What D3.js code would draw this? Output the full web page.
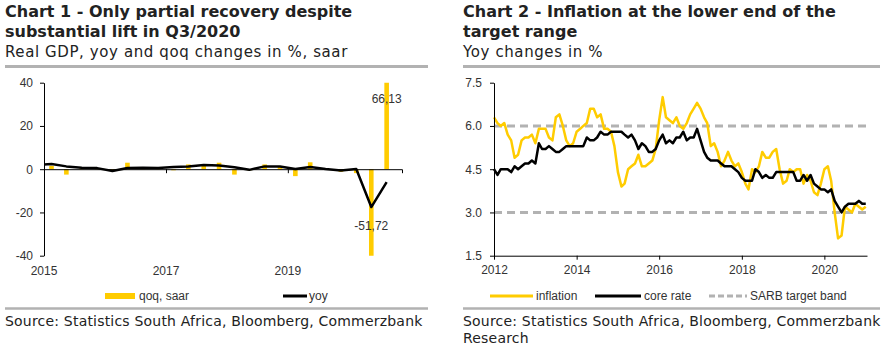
<!DOCTYPE html>
<html>
<head>
<meta charset="utf-8">
<script src="https://cdn.jsdelivr.net/npm/d3@7"></script>
<style>
  body { margin: 0; background: #fff; }
  svg { display: block; }
</style>
</head>
<body>
<div id="chart"></div>
<script>
// ---- data ----
// Chart 1: quarterly real GDP (Q4 2014 .. Q3 2020)
const gdpQuarters = ["2014Q4", "2015Q1", "2015Q2", "2015Q3", "2015Q4", "2016Q1", "2016Q2", "2016Q3", "2016Q4",
    "2017Q1", "2017Q2", "2017Q3", "2017Q4", "2018Q1", "2018Q2", "2018Q3", "2018Q4",
    "2019Q1", "2019Q2", "2019Q3", "2019Q4", "2020Q1", "2020Q2", "2020Q3"];
const gdpQoq = [null, 1.5, -2.5, 0.5, 0.4, -0.8, 3.0, 0.3, 0.4, -0.5, 2.2, 2.2, 3.0,
    -2.5, -0.5, 2.2, 1.4, -3.2, 3.2, -0.3, -1.2, -1.8, -51.72, 66.13];
const gdpYoy = [2.0, 2.4, 1.3, 0.7, 0.5, -0.8, 0.6, 0.7, 0.6, 1.0, 1.2, 1.9, 1.7,
    0.9, -0.3, 1.3, 1.2, 0.1, 1.0, 0.1, -0.6, 0.1, -17.5, -6.0];
const gdpTicks = [2015, 2017, 2019];
const gdpYTicks = [-40, -20, 0, 20, 40];

// Chart 2: monthly CPI (Jan 2012 .. Jan 2021)
const cpiStart = "2012-01";
const inflation = [
    6.3, 6.1, 6.0, 6.1, 5.7, 5.5, 4.9, 5.0, 5.5, 5.6, 5.6, 5.7,
    5.4, 5.9, 5.9, 5.9, 5.6, 5.5, 6.3, 6.4, 6.0, 5.5, 5.3, 5.4,
    5.8, 5.9, 6.0, 6.1, 6.6, 6.6, 6.3, 6.4, 5.9, 5.9, 5.8, 5.3,
    4.4, 3.9, 4.0, 4.5, 4.6, 4.7, 5.0, 4.6, 4.6, 4.7, 4.8, 5.2,
    6.2, 7.0, 6.3, 6.2, 6.1, 6.3, 6.0, 5.9, 6.1, 6.4, 6.6, 6.8,
    6.6, 6.3, 6.1, 5.3, 5.4, 5.1, 4.6, 4.8, 5.1, 4.8, 4.6, 4.7,
    4.4, 4.0, 3.8, 4.5, 4.4, 4.6, 5.1, 4.9, 4.9, 5.1, 5.2, 4.5,
    4.0, 4.1, 4.5, 4.4, 4.5, 4.5, 4.0, 4.3, 4.1, 3.7, 3.6, 4.0,
    4.5, 4.6, 4.1, 3.0, 2.1, 2.2, 3.2, 3.1, 3.0, 3.3, 3.2, 3.1,
    3.2];
const coreRate = [
    4.5, 4.3, 4.5, 4.5, 4.5, 4.4, 4.6, 4.5, 4.6, 4.7, 4.7, 4.8,
    4.7, 5.4, 5.2, 5.2, 5.3, 5.2, 5.1, 5.1, 5.2, 5.3, 5.3, 5.3,
    5.3, 5.3, 5.3, 5.6, 5.5, 5.5, 5.6, 5.8, 5.7, 5.7, 5.8, 5.8,
    5.8, 5.8, 5.7, 5.6, 5.7, 5.5, 5.2, 5.4, 5.3, 5.1, 5.1, 5.2,
    5.5, 5.7, 5.4, 5.5, 5.4, 5.6, 5.6, 5.8, 5.5, 5.6, 5.6, 5.9,
    5.5, 5.1, 4.9, 4.8, 4.8, 4.8, 4.7, 4.6, 4.6, 4.6, 4.5, 4.4,
    4.2, 4.1, 4.1, 4.1, 4.5, 4.4, 4.2, 4.3, 4.2, 4.2, 4.4, 4.4,
    4.4, 4.4, 4.4, 4.4, 4.1, 4.1, 4.3, 4.1, 4.3, 4.0, 3.9, 3.8,
    3.8, 3.7, 3.8, 3.4, 3.2, 3.0, 3.2, 3.3, 3.3, 3.3, 3.4, 3.3,
    3.3];
const targetBand = [3.0, 6.0];
const cpiTicks = [2012, 2014, 2016, 2018, 2020];
const cpiYTicks = [1.5, 3.0, 4.5, 6.0, 7.5];

// ---- styles ----
const YELLOW = "#ffcc00";
const GREY = "#b2b2b2";
const TEXT = "#222";
const TITLE_FONT = "'DejaVu Sans', sans-serif";
const AXIS_FONT = "'Liberation Sans', Arial, sans-serif";
const LEGEND_FONT = "'Liberation Sans Narrow', 'Liberation Sans', sans-serif";

const svg = d3.select("#chart").append("svg")
    .attr("width", 889)
    .attr("height", 349);

const parseQuarter = s => new Date(+s.slice(0, 4), (+s.slice(5) - 1) * 3 + 1, 15);
const hyphen = s => String(s).replace("\u2212", "-");

// title block, rules and source text shared by both panels
function frame(x0, x1, titleLines, subtitle, sourceLines) {
    const g = svg.append("g");
    titleLines.forEach((t, i) => {
        g.append("text")
            .attr("x", x0).attr("y", 17 + i * 20)
            .style("font-family", TITLE_FONT)
            .style("font-weight", "bold")
            .style("font-size", "16px")
            .attr("fill", TEXT)
            .text(t);
    });
    g.append("text")
        .attr("x", x0).attr("y", 57)
        .style("font-family", TITLE_FONT)
        .style("font-size", "15px")
        .style("letter-spacing", "0.6px")
        .attr("fill", TEXT)
        .text(subtitle);
    g.append("line")
        .attr("x1", x0).attr("x2", x1).attr("y1", 66.5).attr("y2", 66.5)
        .attr("stroke", GREY).attr("stroke-width", 3);
    g.append("line")
        .attr("x1", x0).attr("x2", x1).attr("y1", 308.5).attr("y2", 308.5)
        .attr("stroke", GREY).attr("stroke-width", 2.5);
    sourceLines.forEach((t, i) => {
        g.append("text")
            .attr("x", x0).attr("y", 326 + i * 17)
            .style("font-family", TITLE_FONT)
            .style("font-size", "14px")
            .style("letter-spacing", "0.2px")
            .attr("fill", TEXT)
            .text(t);
    });
}

// ---- Chart 1 ----
function drawGdp() {
    frame(5, 428, ["Chart 1 - Only partial recovery despite", "substantial lift in Q3/2020"],
        "Real GDP, yoy and qoq changes in %, saar",
        ["Source: Statistics South Africa, Bloomberg, Commerzbank"]);

    const x = d3.scaleTime()
        .domain([new Date(2015, 0, 1), new Date(2020, 10, 15)])
        .range([44, 402]);
    const y = d3.scaleLinear().domain([-40, 40]).range([255.7, 82.7]);

    const rows = gdpQuarters.map((q, i) => ({ date: parseQuarter(q), qoq: gdpQoq[i], yoy: gdpYoy[i] }));

    svg.append("clipPath").attr("id", "clip1")
        .append("rect").attr("x", 44).attr("y", 82.7).attr("width", 358).attr("height", 173);

    const plot = svg.append("g").attr("clip-path", "url(#clip1)");
    const barW = 4.6;

    plot.selectAll("rect.bar")
        .data(rows.filter(d => d.qoq !== null))
        .enter().append("rect")
        .attr("class", "bar")
        .attr("x", d => x(d.date) - barW / 2)
        .attr("width", barW)
        .attr("y", d => y(Math.max(0, d.qoq)))
        .attr("height", d => Math.abs(y(d.qoq) - y(0)))
        .attr("fill", YELLOW);

    // zero line acts as the x axis, ticks hang below it
    const xAxis = svg.append("g")
        .attr("transform", `translate(0,${y(0)})`)
        .call(d3.axisBottom(x)
            .tickValues(gdpTicks.map(t => new Date(t, 0, 1)))
            .tickSize(4).tickFormat(""));
    xAxis.select(".domain").attr("stroke", "#000").attr("stroke-width", 1);
    xAxis.selectAll(".tick line").attr("stroke", "#000");

    svg.append("g").selectAll("text")
        .data(gdpTicks)
        .enter().append("text")
        .attr("x", d => x(new Date(d, 0, 1)))
        .attr("y", 275)
        .attr("text-anchor", "middle")
        .style("font-family", AXIS_FONT).style("font-size", "12px")
        .attr("fill", "#333")
        .text(d => d);

    plot.append("path")
        .datum(rows)
        .attr("fill", "none")
        .attr("stroke", "#000")
        .attr("stroke-width", 2.5)
        .attr("stroke-linejoin", "round")
        .attr("d", d3.line().x(d => x(d.date)).y(d => y(d.yoy)));

    const yAxis = svg.append("g")
        .attr("transform", "translate(44,0)")
        .call(d3.axisLeft(y).tickValues(gdpYTicks).tickSize(4).tickSizeOuter(0).tickPadding(7)
            .tickFormat(d => hyphen(d)));
    yAxis.select(".domain").attr("stroke", "#000");
    yAxis.selectAll(".tick line").attr("stroke", "#000");
    yAxis.selectAll("text").style("font-family", AXIS_FONT).style("font-size", "12px").attr("fill", "#333");

    // value labels for the clipped bars
    const fmt = v => hyphen(d3.format(".2f")(v)).replace(".", ",");
    const last = rows[rows.length - 1], prev = rows[rows.length - 2];
    svg.append("text")
        .attr("x", x(last.date)).attr("y", 103)
        .attr("text-anchor", "middle")
        .style("font-family", AXIS_FONT).style("font-size", "12px").attr("fill", "#333")
        .text(fmt(last.qoq));
    svg.append("text")
        .attr("x", x(prev.date)).attr("y", 230)
        .attr("text-anchor", "middle")
        .style("font-family", AXIS_FONT).style("font-size", "12px").attr("fill", "#333")
        .text(fmt(prev.qoq));

    // legend
    const l1 = svg.append("g").attr("transform", "translate(105,296)");
    l1.append("rect").attr("y", -3).attr("width", 30).attr("height", 6).attr("fill", YELLOW);
    l1.append("text").attr("x", 34).attr("dy", "0.35em")
        .style("font-family", LEGEND_FONT).style("font-size", "12px").attr("fill", "#333").text("qoq, saar");
    const l2 = svg.append("g").attr("transform", "translate(283,296)");
    l2.append("line").attr("x2", 24).attr("stroke", "#000").attr("stroke-width", 3);
    l2.append("text").attr("x", 26).attr("dy", "0.35em")
        .style("font-family", LEGEND_FONT).style("font-size", "12px").attr("fill", "#333").text("yoy");
}

// ---- Chart 2 ----
function drawCpi() {
    frame(463, 880, ["Chart 2 - Inflation at the lower end of the", "target range"],
        "Yoy changes in %",
        ["Source: Statistics South Africa, Bloomberg, Commerzbank", "Research"]);

    const start = d3.timeParse("%Y-%m")(cpiStart);
    const months = d3.timeMonth.range(start, d3.timeMonth.offset(start, inflation.length));
    const rows = months.map((m, i) => ({ date: m, infl: inflation[i], core: coreRate[i] }));

    const x = d3.scaleTime()
        .domain([new Date(2012, 0, 1), new Date(2021, 0, 12)])
        .range([494, 867]);
    const y = d3.scaleLinear().domain([1.5, 7.5]).range([255.7, 82.7]);

    // target band
    svg.append("g").selectAll("line")
        .data(targetBand)
        .enter().append("line")
        .attr("x1", x.range()[0]).attr("x2", x.range()[1])
        .attr("y1", d => y(d)).attr("y2", d => y(d))
        .attr("stroke", GREY).attr("stroke-width", 3)
        .attr("stroke-dasharray", "8,5");

    const line = key => d3.line().x(d => x(d.date)).y(d => y(d[key]));

    svg.append("path").datum(rows)
        .attr("fill", "none").attr("stroke", YELLOW).attr("stroke-width", 2.5)
        .attr("stroke-linejoin", "round")
        .attr("d", line("infl"));
    svg.append("path").datum(rows)
        .attr("fill", "none").attr("stroke", "#000").attr("stroke-width", 2.5)
        .attr("stroke-linejoin", "round")
        .attr("d", line("core"));

    const xAxis = svg.append("g")
        .attr("transform", `translate(0,${y(1.5)})`)
        .call(d3.axisBottom(x)
            .tickValues(cpiTicks.map(t => new Date(t, 0, 1)))
            .tickSize(4).tickSizeOuter(0).tickPadding(6)
            .tickFormat(d3.timeFormat("%Y")));
    xAxis.select(".domain").attr("stroke", "#000");
    xAxis.selectAll(".tick line").attr("stroke", "#000");
    xAxis.selectAll("text").style("font-family", AXIS_FONT).style("font-size", "12px").attr("fill", "#333");

    const yAxis = svg.append("g")
        .attr("transform", `translate(${x.range()[0]},0)`)
        .call(d3.axisLeft(y).tickValues(cpiYTicks).tickSize(4).tickSizeOuter(0).tickPadding(8)
            .tickFormat(d3.format(".1f")));
    yAxis.select(".domain").attr("stroke", "#000");
    yAxis.selectAll(".tick line").attr("stroke", "#000");
    yAxis.selectAll("text").style("font-family", AXIS_FONT).style("font-size", "12px").attr("fill", "#333");

    // legend
    const items = [
        { x: 490, w: 43, label: "inflation", stroke: YELLOW, dash: null },
        { x: 595, w: 46, label: "core rate", stroke: "#000", dash: null },
        { x: 709, w: 38, label: "SARB target band", stroke: GREY, dash: "6,3" }
    ];
    const lg = svg.append("g").selectAll("g")
        .data(items)
        .enter().append("g")
        .attr("transform", d => `translate(${d.x},296)`);
    lg.append("line")
        .attr("x2", d => d.w)
        .attr("stroke", d => d.stroke)
        .attr("stroke-width", 3)
        .attr("stroke-dasharray", d => d.dash);
    lg.append("text")
        .attr("x", d => d.w + 3).attr("dy", "0.35em")
        .style("font-family", LEGEND_FONT).style("font-size", "12px").attr("fill", "#333")
        .text(d => d.label);
}

drawGdp();
drawCpi();
</script>
</body>
</html>
